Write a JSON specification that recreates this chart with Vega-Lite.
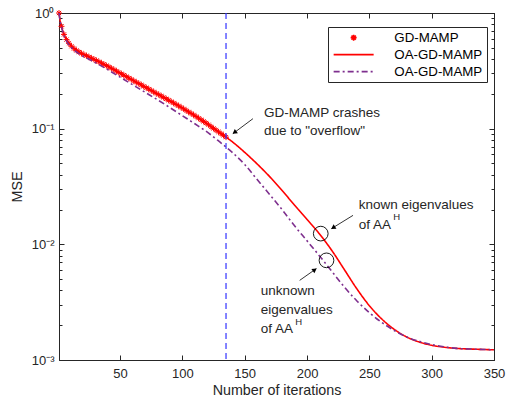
{
  "$schema": "https://vega.github.io/schema/vega-lite/v6.json",
  "width": 435,
  "height": 347,
  "autosize": {"type": "none"},
  "padding": {"left": 59, "top": 13, "right": 13, "bottom": 40},
  "background": "white",
  "config": {
    "view": {"stroke": "#262626", "strokeWidth": 1},
    "font": "Liberation Sans",
    "axis": {
      "domainColor": "#262626", "tickColor": "#262626", "labelColor": "#262626", "titleColor": "#262626",
      "labelFont": "Liberation Sans", "titleFont": "Liberation Sans", "labelFontSize": 13, "titleFontSize": 14.3,
      "titleFontWeight": "normal", "grid": false, "domainWidth": 1, "tickWidth": 1, "labelFlush": false
    },
    "legend": {
      "orient": "none", "legendX": 269, "legendY": 14, "title": null,
      "strokeColor": "#262626", "fillColor": "white", "padding": 4,
      "labelFont": "Liberation Sans", "labelFontSize": 13.3, "labelColor": "#000000",
      "symbolSize": 100, "symbolStrokeWidth": 1.6, "rowPadding": 3, "labelOffset": 34, "symbolOffset": 15
    }
  },
  "datasets": {
    "curves": [
      {"iter": 1, "mse": 1.0, "series": "OA-GD-MAMP known"},
      {"iter": 2, "mse": 0.851, "series": "OA-GD-MAMP known"},
      {"iter": 3, "mse": 0.767, "series": "OA-GD-MAMP known"},
      {"iter": 5, "mse": 0.653, "series": "OA-GD-MAMP known"},
      {"iter": 7, "mse": 0.589, "series": "OA-GD-MAMP known"},
      {"iter": 9, "mse": 0.547, "series": "OA-GD-MAMP known"},
      {"iter": 11, "mse": 0.516, "series": "OA-GD-MAMP known"},
      {"iter": 13, "mse": 0.493, "series": "OA-GD-MAMP known"},
      {"iter": 15, "mse": 0.475, "series": "OA-GD-MAMP known"},
      {"iter": 17, "mse": 0.46, "series": "OA-GD-MAMP known"},
      {"iter": 20, "mse": 0.442, "series": "OA-GD-MAMP known"},
      {"iter": 25, "mse": 0.417, "series": "OA-GD-MAMP known"},
      {"iter": 30, "mse": 0.394, "series": "OA-GD-MAMP known"},
      {"iter": 40, "mse": 0.347, "series": "OA-GD-MAMP known"},
      {"iter": 50, "mse": 0.302, "series": "OA-GD-MAMP known"},
      {"iter": 60, "mse": 0.263, "series": "OA-GD-MAMP known"},
      {"iter": 70, "mse": 0.229, "series": "OA-GD-MAMP known"},
      {"iter": 80, "mse": 0.1995, "series": "OA-GD-MAMP known"},
      {"iter": 90, "mse": 0.1738, "series": "OA-GD-MAMP known"},
      {"iter": 100, "mse": 0.1507, "series": "OA-GD-MAMP known"},
      {"iter": 110, "mse": 0.1294, "series": "OA-GD-MAMP known"},
      {"iter": 120, "mse": 0.1102, "series": "OA-GD-MAMP known"},
      {"iter": 130, "mse": 0.0925, "series": "OA-GD-MAMP known"},
      {"iter": 135, "mse": 0.0845, "series": "OA-GD-MAMP known"},
      {"iter": 140, "mse": 0.0771, "series": "OA-GD-MAMP known"},
      {"iter": 150, "mse": 0.0624, "series": "OA-GD-MAMP known"},
      {"iter": 160, "mse": 0.0495, "series": "OA-GD-MAMP known"},
      {"iter": 170, "mse": 0.0385, "series": "OA-GD-MAMP known"},
      {"iter": 180, "mse": 0.0292, "series": "OA-GD-MAMP known"},
      {"iter": 190, "mse": 0.0218, "series": "OA-GD-MAMP known"},
      {"iter": 200, "mse": 0.0164, "series": "OA-GD-MAMP known"},
      {"iter": 210, "mse": 0.0123, "series": "OA-GD-MAMP known"},
      {"iter": 220, "mse": 0.00881, "series": "OA-GD-MAMP known"},
      {"iter": 230, "mse": 0.00603, "series": "OA-GD-MAMP known"},
      {"iter": 240, "mse": 0.00412, "series": "OA-GD-MAMP known"},
      {"iter": 250, "mse": 0.00295, "series": "OA-GD-MAMP known"},
      {"iter": 260, "mse": 0.00226, "series": "OA-GD-MAMP known"},
      {"iter": 270, "mse": 0.00184, "series": "OA-GD-MAMP known"},
      {"iter": 280, "mse": 0.00158, "series": "OA-GD-MAMP known"},
      {"iter": 290, "mse": 0.00143, "series": "OA-GD-MAMP known"},
      {"iter": 300, "mse": 0.00134, "series": "OA-GD-MAMP known"},
      {"iter": 310, "mse": 0.00129, "series": "OA-GD-MAMP known"},
      {"iter": 320, "mse": 0.00126, "series": "OA-GD-MAMP known"},
      {"iter": 335, "mse": 0.00124, "series": "OA-GD-MAMP known"},
      {"iter": 350, "mse": 0.001225, "series": "OA-GD-MAMP known"},
      {"iter": 1, "mse": 1.0, "series": "OA-GD-MAMP unknown"},
      {"iter": 2, "mse": 0.841, "series": "OA-GD-MAMP unknown"},
      {"iter": 3, "mse": 0.759, "series": "OA-GD-MAMP unknown"},
      {"iter": 5, "mse": 0.638, "series": "OA-GD-MAMP unknown"},
      {"iter": 7, "mse": 0.575, "series": "OA-GD-MAMP unknown"},
      {"iter": 9, "mse": 0.532, "series": "OA-GD-MAMP unknown"},
      {"iter": 11, "mse": 0.502, "series": "OA-GD-MAMP unknown"},
      {"iter": 13, "mse": 0.479, "series": "OA-GD-MAMP unknown"},
      {"iter": 15, "mse": 0.46, "series": "OA-GD-MAMP unknown"},
      {"iter": 17, "mse": 0.445, "series": "OA-GD-MAMP unknown"},
      {"iter": 20, "mse": 0.425, "series": "OA-GD-MAMP unknown"},
      {"iter": 25, "mse": 0.398, "series": "OA-GD-MAMP unknown"},
      {"iter": 30, "mse": 0.373, "series": "OA-GD-MAMP unknown"},
      {"iter": 40, "mse": 0.324, "series": "OA-GD-MAMP unknown"},
      {"iter": 50, "mse": 0.279, "series": "OA-GD-MAMP unknown"},
      {"iter": 60, "mse": 0.24, "series": "OA-GD-MAMP unknown"},
      {"iter": 70, "mse": 0.2065, "series": "OA-GD-MAMP unknown"},
      {"iter": 80, "mse": 0.1778, "series": "OA-GD-MAMP unknown"},
      {"iter": 90, "mse": 0.1521, "series": "OA-GD-MAMP unknown"},
      {"iter": 100, "mse": 0.1294, "series": "OA-GD-MAMP unknown"},
      {"iter": 110, "mse": 0.1102, "series": "OA-GD-MAMP unknown"},
      {"iter": 120, "mse": 0.0933, "series": "OA-GD-MAMP unknown"},
      {"iter": 130, "mse": 0.0767, "series": "OA-GD-MAMP unknown"},
      {"iter": 135, "mse": 0.0693, "series": "OA-GD-MAMP unknown"},
      {"iter": 140, "mse": 0.0624, "series": "OA-GD-MAMP unknown"},
      {"iter": 150, "mse": 0.049, "series": "OA-GD-MAMP unknown"},
      {"iter": 160, "mse": 0.0363, "series": "OA-GD-MAMP unknown"},
      {"iter": 170, "mse": 0.027, "series": "OA-GD-MAMP unknown"},
      {"iter": 180, "mse": 0.01995, "series": "OA-GD-MAMP unknown"},
      {"iter": 190, "mse": 0.01445, "series": "OA-GD-MAMP unknown"},
      {"iter": 200, "mse": 0.01072, "series": "OA-GD-MAMP unknown"},
      {"iter": 210, "mse": 0.00794, "series": "OA-GD-MAMP unknown"},
      {"iter": 220, "mse": 0.00582, "series": "OA-GD-MAMP unknown"},
      {"iter": 230, "mse": 0.00427, "series": "OA-GD-MAMP unknown"},
      {"iter": 240, "mse": 0.00324, "series": "OA-GD-MAMP unknown"},
      {"iter": 250, "mse": 0.00257, "series": "OA-GD-MAMP unknown"},
      {"iter": 260, "mse": 0.00211, "series": "OA-GD-MAMP unknown"},
      {"iter": 270, "mse": 0.0018, "series": "OA-GD-MAMP unknown"},
      {"iter": 280, "mse": 0.00158, "series": "OA-GD-MAMP unknown"},
      {"iter": 290, "mse": 0.00145, "series": "OA-GD-MAMP unknown"},
      {"iter": 300, "mse": 0.00136, "series": "OA-GD-MAMP unknown"},
      {"iter": 310, "mse": 0.0013, "series": "OA-GD-MAMP unknown"},
      {"iter": 320, "mse": 0.00126, "series": "OA-GD-MAMP unknown"},
      {"iter": 335, "mse": 0.00124, "series": "OA-GD-MAMP unknown"},
      {"iter": 350, "mse": 0.001225, "series": "OA-GD-MAMP unknown"}
    ],
    "gd": [
      {"iter": 1, "mse": 1.0, "series": "GD-MAMP"},
      {"iter": 3, "mse": 0.767, "series": "GD-MAMP"},
      {"iter": 5, "mse": 0.653, "series": "GD-MAMP"},
      {"iter": 7, "mse": 0.589, "series": "GD-MAMP"},
      {"iter": 9, "mse": 0.547, "series": "GD-MAMP"},
      {"iter": 11, "mse": 0.516, "series": "GD-MAMP"},
      {"iter": 13, "mse": 0.493, "series": "GD-MAMP"},
      {"iter": 15, "mse": 0.475, "series": "GD-MAMP"},
      {"iter": 17, "mse": 0.46, "series": "GD-MAMP"},
      {"iter": 19, "mse": 0.448, "series": "GD-MAMP"},
      {"iter": 21, "mse": 0.437, "series": "GD-MAMP"},
      {"iter": 23, "mse": 0.427, "series": "GD-MAMP"},
      {"iter": 25, "mse": 0.417, "series": "GD-MAMP"},
      {"iter": 27, "mse": 0.407, "series": "GD-MAMP"},
      {"iter": 29, "mse": 0.398, "series": "GD-MAMP"},
      {"iter": 31, "mse": 0.388, "series": "GD-MAMP"},
      {"iter": 33, "mse": 0.379, "series": "GD-MAMP"},
      {"iter": 35, "mse": 0.369, "series": "GD-MAMP"},
      {"iter": 37, "mse": 0.36, "series": "GD-MAMP"},
      {"iter": 39, "mse": 0.351, "series": "GD-MAMP"},
      {"iter": 41, "mse": 0.342, "series": "GD-MAMP"},
      {"iter": 43, "mse": 0.333, "series": "GD-MAMP"},
      {"iter": 45, "mse": 0.324, "series": "GD-MAMP"},
      {"iter": 47, "mse": 0.315, "series": "GD-MAMP"},
      {"iter": 49, "mse": 0.306, "series": "GD-MAMP"},
      {"iter": 51, "mse": 0.298, "series": "GD-MAMP"},
      {"iter": 53, "mse": 0.29, "series": "GD-MAMP"},
      {"iter": 55, "mse": 0.282, "series": "GD-MAMP"},
      {"iter": 57, "mse": 0.274, "series": "GD-MAMP"},
      {"iter": 59, "mse": 0.267, "series": "GD-MAMP"},
      {"iter": 61, "mse": 0.259, "series": "GD-MAMP"},
      {"iter": 63, "mse": 0.252, "series": "GD-MAMP"},
      {"iter": 65, "mse": 0.2455, "series": "GD-MAMP"},
      {"iter": 67, "mse": 0.239, "series": "GD-MAMP"},
      {"iter": 69, "mse": 0.232, "series": "GD-MAMP"},
      {"iter": 71, "mse": 0.226, "series": "GD-MAMP"},
      {"iter": 73, "mse": 0.22, "series": "GD-MAMP"},
      {"iter": 75, "mse": 0.214, "series": "GD-MAMP"},
      {"iter": 77, "mse": 0.208, "series": "GD-MAMP"},
      {"iter": 79, "mse": 0.202, "series": "GD-MAMP"},
      {"iter": 81, "mse": 0.197, "series": "GD-MAMP"},
      {"iter": 83, "mse": 0.1914, "series": "GD-MAMP"},
      {"iter": 85, "mse": 0.1862, "series": "GD-MAMP"},
      {"iter": 87, "mse": 0.1811, "series": "GD-MAMP"},
      {"iter": 89, "mse": 0.1762, "series": "GD-MAMP"},
      {"iter": 91, "mse": 0.1714, "series": "GD-MAMP"},
      {"iter": 93, "mse": 0.1667, "series": "GD-MAMP"},
      {"iter": 95, "mse": 0.1618, "series": "GD-MAMP"},
      {"iter": 97, "mse": 0.1574, "series": "GD-MAMP"},
      {"iter": 99, "mse": 0.1528, "series": "GD-MAMP"},
      {"iter": 101, "mse": 0.1483, "series": "GD-MAMP"},
      {"iter": 103, "mse": 0.1439, "series": "GD-MAMP"},
      {"iter": 105, "mse": 0.1396, "series": "GD-MAMP"},
      {"iter": 107, "mse": 0.1355, "series": "GD-MAMP"},
      {"iter": 109, "mse": 0.1315, "series": "GD-MAMP"},
      {"iter": 111, "mse": 0.1274, "series": "GD-MAMP"},
      {"iter": 113, "mse": 0.1233, "series": "GD-MAMP"},
      {"iter": 115, "mse": 0.1194, "series": "GD-MAMP"},
      {"iter": 117, "mse": 0.1156, "series": "GD-MAMP"},
      {"iter": 119, "mse": 0.1119, "series": "GD-MAMP"},
      {"iter": 121, "mse": 0.1081, "series": "GD-MAMP"},
      {"iter": 123, "mse": 0.104, "series": "GD-MAMP"},
      {"iter": 125, "mse": 0.1005, "series": "GD-MAMP"},
      {"iter": 127, "mse": 0.097, "series": "GD-MAMP"},
      {"iter": 129, "mse": 0.0938, "series": "GD-MAMP"},
      {"iter": 131, "mse": 0.0906, "series": "GD-MAMP"},
      {"iter": 133, "mse": 0.0875, "series": "GD-MAMP"},
      {"iter": 135, "mse": 0.0845, "series": "GD-MAMP"}
    ],
    "notes": [
      {"iter": 165.4, "mse": 0.1364, "text": "GD-MAMP crashes"},
      {"iter": 165.4, "mse": 0.0953, "text": "due to \"overflow\""},
      {"iter": 241.5, "mse": 0.022, "text": "known eigenvalues"},
      {"iter": 241.5, "mse": 0.01459, "text": "of AA"},
      {"iter": 162.8, "mse": 0.003925, "text": "unknown"},
      {"iter": 162.8, "mse": 0.002691, "text": "eigenvalues"},
      {"iter": 162.8, "mse": 0.001842, "text": "of AA"}
    ],
    "sups": [
      {"iter": 269.2, "mse": 0.01722, "text": "H"},
      {"iter": 190.6, "mse": 0.002148, "text": "H"}
    ],
    "arrows": [
      {"iter": 156.6, "mse": 0.122, "iter2": 140.5, "mse2": 0.0905},
      {"iter": 236.9, "mse": 0.0178, "iter2": 219.6, "mse2": 0.01367},
      {"iter": 194.1, "mse": 0.00488, "iter2": 207.5, "mse2": 0.00617}
    ],
    "circles": [
      {"iter": 211.0, "mse": 0.01238},
      {"iter": 215.6, "mse": 0.00727}
    ],
    "crash": [{"iter": 135}]
  },
  "resolve": {"axis": {"x": "independent", "y": "independent"}},
  "layer": [
    {
      "data": {"name": "gd"},
      "mark": {"type": "point", "filled": false, "strokeWidth": 1, "size": 100, "opacity": 1},
      "encoding": {
        "x": {"field": "iter", "type": "quantitative", "scale": {"domain": [1, 350], "nice": false, "zero": false}, "axis": null},
        "y": {"field": "mse", "type": "quantitative", "scale": {"type": "log", "domain": [0.001, 1], "nice": false}, "axis": null},
        "color": {"field": "series", "type": "nominal",
          "scale": {"domain": ["GD-MAMP", "OA-GD-MAMP known", "OA-GD-MAMP unknown"], "range": ["#FF0000", "#FF0000", "#7E2F8E"]},
          "legend": {"labelExpr": "datum.label == 'GD-MAMP' ? 'GD-MAMP' : 'OA-GD-MAMP'"}},
        "shape": {"field": "series", "type": "nominal",
          "scale": {"domain": ["GD-MAMP", "OA-GD-MAMP known", "OA-GD-MAMP unknown"],
            "range": ["M-0.6,0L0.6,0M0,-0.6L0,0.6M-0.42,-0.42L0.42,0.42M-0.42,0.42L0.42,-0.42", "M-4,0L4,0", "M-4,0L4,0"]},
          "legend": {"labelExpr": "datum.label == 'GD-MAMP' ? 'GD-MAMP' : 'OA-GD-MAMP'"}}
      }
    },
    {
      "data": {"name": "curves"},
      "mark": {"type": "line", "strokeWidth": 1.6, "interpolate": "monotone"},
      "encoding": {
        "x": {"field": "iter", "type": "quantitative", "scale": {"domain": [1, 350], "nice": false, "zero": false},
          "axis": {"orient": "bottom", "values": [50, 100, 150, 200, 250, 300, 350], "title": "Number of iterations", "tickSize": -5, "labelPadding": 12, "titlePadding": 3}},
        "y": {"field": "mse", "type": "quantitative", "scale": {"type": "log", "domain": [0.001, 1], "nice": false},
          "axis": {"orient": "left", "title": "MSE", "titlePadding": 7, "labelPadding": 10,
            "values": [0.001, 0.002, 0.003, 0.004, 0.005, 0.006, 0.007, 0.008, 0.009, 0.01, 0.02, 0.03, 0.04, 0.05, 0.06, 0.07, 0.08, 0.09, 0.1, 0.2, 0.3, 0.4, 0.5, 0.6, 0.7, 0.8, 0.9, 1],
            "labelExpr": "datum.value == 1 ? '10⁰' : datum.value == 0.1 ? '10⁻¹' : datum.value == 0.01 ? '10⁻²' : datum.value == 0.001 ? '10⁻³' : ''",
            "tickSize": {"condition": {"test": "datum.value == 1 || datum.value == 0.1 || datum.value == 0.01 || datum.value == 0.001", "value": -5}, "value": -3}}},
        "color": {"field": "series", "type": "nominal",
          "scale": {"domain": ["GD-MAMP", "OA-GD-MAMP known", "OA-GD-MAMP unknown"], "range": ["#FF0000", "#FF0000", "#7E2F8E"]},
          "legend": {"labelExpr": "datum.label == 'GD-MAMP' ? 'GD-MAMP' : 'OA-GD-MAMP'"}},
        "strokeDash": {"field": "series", "type": "nominal",
          "scale": {"domain": ["GD-MAMP", "OA-GD-MAMP known", "OA-GD-MAMP unknown"], "range": [[1, 0], [1, 0], [6, 3, 2, 3]]},
          "legend": {"labelExpr": "datum.label == 'GD-MAMP' ? 'GD-MAMP' : 'OA-GD-MAMP'"}}
      }
    },
    {
      "data": {"name": "crash"},
      "mark": {"type": "rule", "color": "#3333FF", "strokeWidth": 1.2, "strokeDash": [6, 4]},
      "encoding": {
        "x": {"field": "iter", "type": "quantitative", "scale": {"domain": [1, 350], "nice": false, "zero": false}, "axis": null}
      }
    },
    {
      "data": {"name": "arrows"},
      "mark": {"type": "rule", "color": "#000000", "strokeWidth": 0.8},
      "encoding": {
        "x": {"field": "iter", "type": "quantitative", "scale": {"domain": [1, 350], "nice": false, "zero": false}, "axis": null},
        "y": {"field": "mse", "type": "quantitative", "scale": {"type": "log", "domain": [0.001, 1], "nice": false}, "axis": null},
        "x2": {"field": "iter2"},
        "y2": {"field": "mse2"}
      }
    },
    {
      "data": {"values": [{"iter": 141.8, "mse": 0.0927}]},
      "mark": {"type": "point", "shape": "triangle-up", "filled": true, "color": "#000000", "size": 28, "angle": 233, "opacity": 1},
      "encoding": {
        "x": {"field": "iter", "type": "quantitative", "scale": {"domain": [1, 350], "nice": false, "zero": false}, "axis": null},
        "y": {"field": "mse", "type": "quantitative", "scale": {"type": "log", "domain": [0.001, 1], "nice": false}, "axis": null}
      }
    },
    {
      "data": {"values": [{"iter": 220.9, "mse": 0.01393}]},
      "mark": {"type": "point", "shape": "triangle-up", "filled": true, "color": "#000000", "size": 28, "angle": 238, "opacity": 1},
      "encoding": {
        "x": {"field": "iter", "type": "quantitative", "scale": {"domain": [1, 350], "nice": false, "zero": false}, "axis": null},
        "y": {"field": "mse", "type": "quantitative", "scale": {"type": "log", "domain": [0.001, 1], "nice": false}, "axis": null}
      }
    },
    {
      "data": {"values": [{"iter": 206.2, "mse": 0.00603}]},
      "mark": {"type": "point", "shape": "triangle-up", "filled": true, "color": "#000000", "size": 28, "angle": 55, "opacity": 1},
      "encoding": {
        "x": {"field": "iter", "type": "quantitative", "scale": {"domain": [1, 350], "nice": false, "zero": false}, "axis": null},
        "y": {"field": "mse", "type": "quantitative", "scale": {"type": "log", "domain": [0.001, 1], "nice": false}, "axis": null}
      }
    },
    {
      "data": {"name": "circles"},
      "mark": {"type": "point", "shape": "circle", "filled": false, "color": "#000000", "strokeWidth": 0.9, "size": 216, "opacity": 1},
      "encoding": {
        "x": {"field": "iter", "type": "quantitative", "scale": {"domain": [1, 350], "nice": false, "zero": false},
          "axis": {"orient": "top", "values": [50, 100, 150, 200, 250, 300, 350], "labels": false, "title": null, "tickSize": -5}},
        "y": {"field": "mse", "type": "quantitative", "scale": {"type": "log", "domain": [0.001, 1], "nice": false},
          "axis": {"orient": "right", "labels": false, "title": null,
            "values": [0.001, 0.002, 0.003, 0.004, 0.005, 0.006, 0.007, 0.008, 0.009, 0.01, 0.02, 0.03, 0.04, 0.05, 0.06, 0.07, 0.08, 0.09, 0.1, 0.2, 0.3, 0.4, 0.5, 0.6, 0.7, 0.8, 0.9, 1],
            "tickSize": {"condition": {"test": "datum.value == 1 || datum.value == 0.1 || datum.value == 0.01 || datum.value == 0.001", "value": -5}, "value": -3}}}
      }
    },
    {
      "data": {"name": "notes"},
      "mark": {"type": "text", "align": "left", "baseline": "middle", "font": "Liberation Sans", "fontSize": 13.5, "color": "#262626"},
      "encoding": {
        "x": {"field": "iter", "type": "quantitative", "scale": {"domain": [1, 350], "nice": false, "zero": false}, "axis": null},
        "y": {"field": "mse", "type": "quantitative", "scale": {"type": "log", "domain": [0.001, 1], "nice": false}, "axis": null},
        "text": {"field": "text", "type": "nominal"}
      }
    },
    {
      "data": {"name": "sups"},
      "mark": {"type": "text", "align": "left", "baseline": "middle", "font": "Liberation Sans", "fontSize": 9.5, "color": "#262626"},
      "encoding": {
        "x": {"field": "iter", "type": "quantitative", "scale": {"domain": [1, 350], "nice": false, "zero": false}, "axis": null},
        "y": {"field": "mse", "type": "quantitative", "scale": {"type": "log", "domain": [0.001, 1], "nice": false}, "axis": null},
        "text": {"field": "text", "type": "nominal"}
      }
    }
  ]
}
